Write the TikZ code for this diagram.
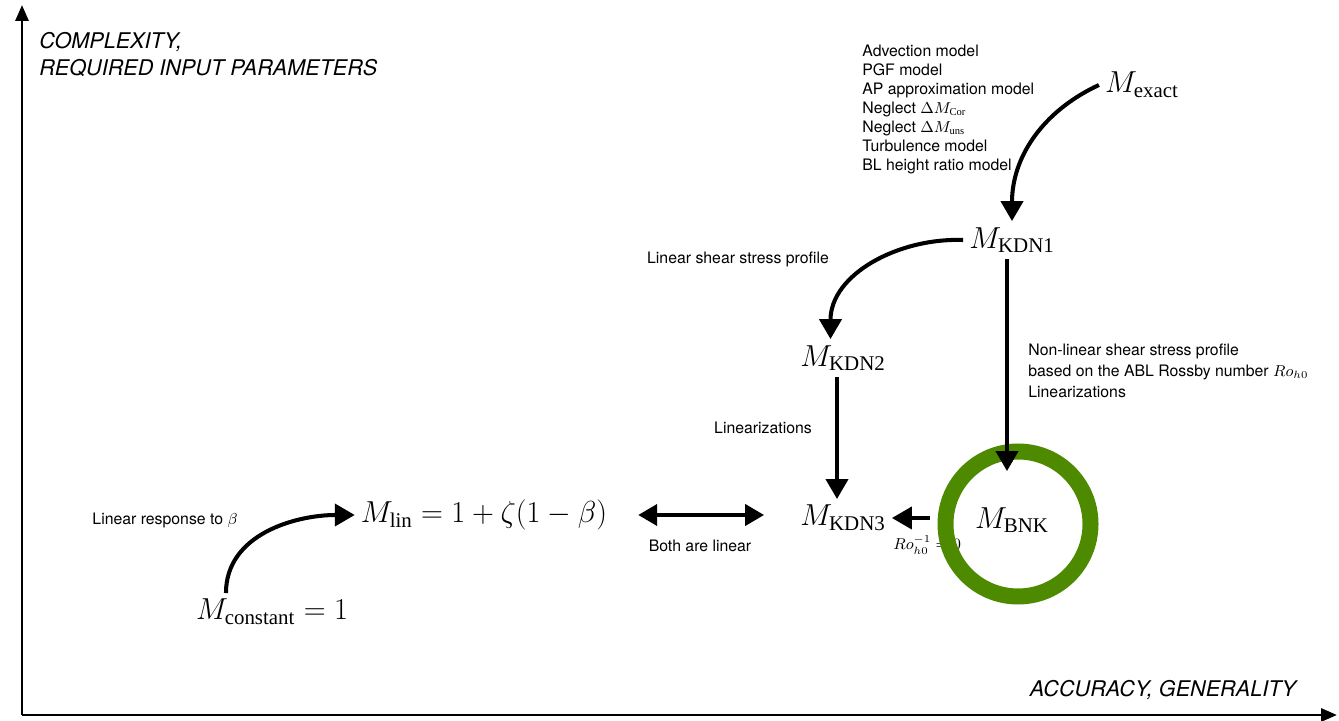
\documentclass[tikz,border=0pt]{standalone}
\usepackage{fontspec}
\setsansfont{TeX Gyre Heros}
\setmathrm{Liberation Serif}
\usepackage{tikz}
\usetikzlibrary{arrows.meta}
\usetikzlibrary{calc}
\definecolor{ringgreen}{RGB}{78,138,0}

\begin{document}
\begin{tikzpicture}[
		arr/.style={line width=2.3pt, -{Triangle[length=0.4cm, width=0.44cm]}},
		biarr/.style={line width=2.3pt, {Triangle[length=0.38cm, width=0.42cm]}-{Triangle[length=0.38cm, width=0.42cm]}},
		lbl/.style={font=\fontsize{9}{11}\sffamily\selectfont, inner sep=0pt},
		axlbl/.style={font=\fontsize{12.3}{15.3}\sffamily\itshape\selectfont, inner sep=0pt},
		mth/.style={font=\fontsize{17}{20}\selectfont}]
		\useasboundingbox (0,0) rectangle (26.78,14.4);

		% axes
		\coordinate (origin) at (0.44,0.1);
		\coordinate (ytop) at (0.44,14.3);
		\coordinate (xend) at (26.74,0.1);
		\draw [line width=1.7pt, -{Triangle[length=0.32cm, width=0.26cm]}] (origin) -- (ytop);
		\draw [line width=1.7pt, -{Triangle[length=0.32cm, width=0.26cm]}] (origin) -- (xend);
		\node[axlbl, anchor=north west, align=left] (ylabel) at (0.78,13.76) {COMPLEXITY,\\REQUIRED INPUT PARAMETERS};
		\node[axlbl] (xlabel) at (23.26,0.6) {ACCURACY, GENERALITY};

		% models
		\node[mth] (exact) at (22.84,12.7) {$M_{\mathrm{exact}}$};
		\node[mth] (kdnone) at (20.24,9.6) {$M_{\mathrm{KDN1}}$};
		\node[mth] (kdntwo) at (16.86,7.24) {$M_{\mathrm{KDN2}}$};
		\node[mth] (kdnthree) at (16.86,4.04) {$M_{\mathrm{KDN3}}$};
		\node[mth] (bnk) at (20.24,4.0) {$M_{\mathrm{BNK}}$};
		\node[mth] (lin) at (9.68,4.1) {$M_{\mathrm{lin}} = 1 + \zeta(1-\beta)$};
		\node[mth] (const) at (5.44,2.16) {$M_{\mathrm{constant}} = 1$};

		% assumptions
		\node[lbl, anchor=north west, align=left, font=\fontsize{9}{10.8}\sffamily\selectfont] (assume) at (17.24,13.5)
			{Advection model\\PGF model\\AP approximation model\\Neglect $\Delta M_{\mathrm{Cor}}$\\Neglect $\Delta M_{\mathrm{uns}}$\\Turbulence model\\BL height ratio model};
		\node[lbl] (shear) at (14.76,9.22) {Linear shear stress profile};
		\node[lbl, anchor=north west, align=left, font=\fontsize{9}{11.7}\sffamily\selectfont] (nonlin) at (20.56,7.52)
			{Non-linear shear stress profile\\based on the ABL Rossby number $Ro_{h0}$\\Linearizations};
		\node[lbl] (linz) at (15.26,5.84) {Linearizations};
		\node[lbl] (both) at (14.0,3.48) {Both are linear};
		\node[lbl] (resp) at (3.3,4.0) {Linear response to $\beta$};
		\node[lbl, anchor=west] (rossby) at (17.86,3.5) {$Ro_{h0}^{-1} = 0$};

		\draw [arr] (exact.west) to[out=205, in=90] (kdnone.north);
		\draw [arr] (kdnone.west) to[out=178, in=90] ([xshift=-0.25cm]kdntwo.north);
		\draw [arr] ([xshift=-0.12cm]kdntwo.south) -- ([xshift=-0.12cm]kdnthree.north);
		\draw [biarr, shorten <=0.5cm, shorten >=0.6cm] (lin.east) -- (lin.east -| kdnthree.west);
		\draw [arr] ($(const.north west)!0.22!(const.north east)$) to[out=90, in=180] (lin.west);

		% the ring round the BNK model
		\node[circle, draw=ringgreen, line width=0.32cm, minimum size=2.9cm, inner sep=0pt] (ring) at (20.36,3.92) {};
		\draw [arr] ([xshift=-0.16cm]ring.west |- kdnthree.east) -- (kdnthree.east);
		\draw [arr, shorten >=0.6cm] ([xshift=-0.1cm]kdnone.south) -- ([xshift=-0.1cm]bnk.north);
	\end{tikzpicture}
\end{document}
